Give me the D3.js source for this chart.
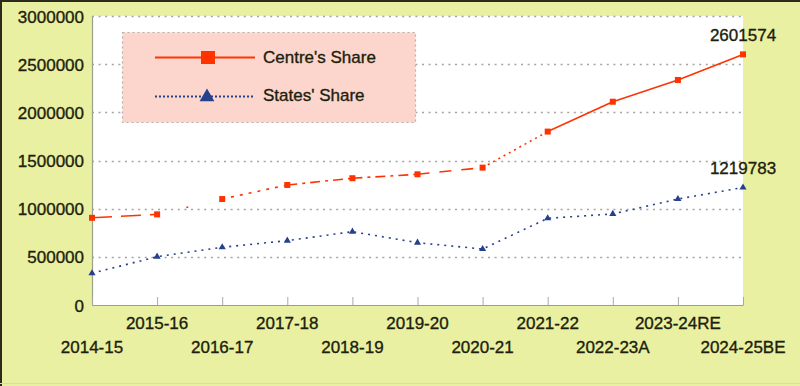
<!DOCTYPE html>
<html>
<head>
<meta charset="utf-8">
<script src="https://cdn.jsdelivr.net/npm/d3@7"></script>
<style>
	body { margin: 0; background: #fff; }
	svg text { font-family: "Liberation Sans", Arial, sans-serif; fill: #1e1e0c; stroke: #1e1e0c; stroke-width: 0.35px; }
</style>
</head>
<body>
<div id="chart"></div>
<script>
let years = ['2014-15', '2015-16', '2016-17', '2017-18', '2018-19', '2019-20',
	'2020-21', '2021-22', '2022-23A', '2023-24RE', '2024-25BE'];
let centreShare = [905000, 941000, 1100000, 1246000, 1316000, 1357000,
	1426000, 1800000, 2110000, 2336000, 2601574];
let statesShare = [329000, 502000, 599000, 668000, 761000, 647000,
	581000, 900000, 945000, 1100000, 1219783];
let yTicks = [0, 500000, 1000000, 1500000, 2000000, 2500000, 3000000];

let WIDTH = 800;
let HEIGHT = 386;
let CENTRE_COLOR = '#ff3300';
let STATES_COLOR = '#27408b';
let GRID_COLOR = '#a4a4a4';

// the source line changes dash pattern from segment to segment
let centreDash = ['20,9', '0,30,2,6', '3,6', '10,5,3,5', '10,5,3,5', '12,10', '2,4', null, null, null];

let margin = {top: 16, right: 57, bottom: 81, left: 92};

let svg = d3.select('#chart').append('svg')
	.attr('width', WIDTH)
	.attr('height', HEIGHT);

svg.append('rect')
	.attr('width', WIDTH)
	.attr('height', HEIGHT)
	.attr('fill', '#e9f0a2');
svg.append('line')
	.attr('x1', 0).attr('x2', WIDTH).attr('y1', 1).attr('y2', 1)
	.attr('stroke', '#2b2b1c').attr('stroke-width', 2);
svg.append('line')
	.attr('x1', 1).attr('x2', 1).attr('y1', 0).attr('y2', HEIGHT)
	.attr('stroke', '#2b2b1c').attr('stroke-width', 2);
svg.append('line')
	.attr('x1', 0).attr('x2', WIDTH).attr('y1', 383.5).attr('y2', 383.5)
	.attr('stroke', '#d8dca8').attr('stroke-width', 1);

let x = d3.scalePoint()
	.domain(years)
	.range([margin.left, WIDTH - margin.right]);

let y = d3.scaleLinear()
	.domain([0, 3000000])
	.range([HEIGHT - margin.bottom, margin.top]);

svg.append('rect')
	.attr('x', margin.left)
	.attr('y', margin.top)
	.attr('width', WIDTH - margin.right - margin.left)
	.attr('height', HEIGHT - margin.bottom - margin.top)
	.attr('fill', '#fff');

// gridlines
svg.append('g')
	.selectAll('line')
	.data(yTicks.filter(d => d > 0))
	.enter().append('line')
	.attr('x1', margin.left)
	.attr('x2', WIDTH - margin.right)
	.attr('y1', d => Math.round(y(d)) + 0.5)
	.attr('y2', d => Math.round(y(d)) + 0.5)
	.attr('stroke', GRID_COLOR)
	.attr('stroke-width', 1.3)
	.attr('stroke-dasharray', '2,4.6');

// y axis
let yAxis = svg.append('g')
	.attr('transform', `translate(${margin.left},0)`)
	.call(d3.axisLeft(y).tickValues(yTicks).tickSize(0).tickPadding(8).tickFormat(d3.format('d')));
yAxis.select('.domain').attr('stroke', '#9aa08a').attr('stroke-width', 1.2);
yAxis.selectAll('text')
	.attr('font-size', 17)
	.attr('dy', '0.36em')
	.style('font-family', '"Liberation Sans", Arial, sans-serif')
	.attr('fill', '#1e1e0c');

// x axis, ticks pointing up into the plot
let xAxis = svg.append('g')
	.attr('transform', `translate(0,${HEIGHT - margin.bottom})`)
	.call(d3.axisBottom(x).tickSizeInner(-8).tickSizeOuter(0).tickFormat(''));
xAxis.select('.domain').attr('stroke', '#9a9a9a').attr('stroke-width', 1.2);
xAxis.selectAll('.tick line').attr('stroke', '#a8a8a8');

svg.append('g')
	.selectAll('text')
	.data(years)
	.enter().append('text')
	.attr('x', d => x(d))
	.attr('y', (d, i) => i % 2 ? 329 : 353)
	.attr('text-anchor', 'middle')
	.attr('font-size', 17)
	.text(d => d);

// centre's share, segment by segment
let centrePts = years.map((d, i) => [x(d), y(centreShare[i])]);
svg.append('g')
	.selectAll('line')
	.data(d3.range(years.length - 1))
	.enter().append('line')
	.attr('x1', i => centrePts[i][0])
	.attr('y1', i => centrePts[i][1])
	.attr('x2', i => centrePts[i + 1][0])
	.attr('y2', i => centrePts[i + 1][1])
	.attr('stroke', CENTRE_COLOR)
	.attr('stroke-width', 1.6)
	.attr('stroke-dasharray', i => centreDash[i]);

svg.append('g')
	.selectAll('rect')
	.data(centreShare)
	.enter().append('rect')
	.attr('x', (d, i) => x(years[i]) - 3)
	.attr('y', d => y(d) - 3)
	.attr('width', 6)
	.attr('height', 6)
	.attr('fill', CENTRE_COLOR);

// states' share
let line = d3.line()
	.x((d, i) => x(years[i]))
	.y(d => y(d));

svg.append('path')
	.datum(statesShare)
	.attr('d', line)
	.attr('fill', 'none')
	.attr('stroke', STATES_COLOR)
	.attr('stroke-width', 1.6)
	.attr('stroke-dasharray', '2,5');

let tri = d3.symbol().type(d3.symbolTriangle).size(22);
svg.append('g')
	.selectAll('path')
	.data(statesShare)
	.enter().append('path')
	.attr('d', tri)
	.attr('transform', (d, i) => `translate(${x(years[i])},${y(d)})`)
	.attr('fill', STATES_COLOR);

// end labels
let last = years.length - 1;
svg.append('text')
	.attr('x', x(years[last]))
	.attr('y', y(centreShare[last]) - 13)
	.attr('text-anchor', 'middle')
	.attr('font-size', 17)
	.text(centreShare[last]);
svg.append('text')
	.attr('x', x(years[last]))
	.attr('y', y(statesShare[last]) - 13)
	.attr('text-anchor', 'middle')
	.attr('font-size', 17)
	.text(statesShare[last]);

// legend
let legend = svg.append('g');
legend.append('rect')
	.attr('x', 122.5)
	.attr('y', 32.5)
	.attr('width', 293)
	.attr('height', 90)
	.attr('fill', '#fcd6cc')
	.attr('stroke', '#b8b0a8')
	.attr('stroke-width', 1.2)
	.attr('stroke-dasharray', '2,3');

legend.append('line')
	.attr('x1', 155).attr('x2', 255).attr('y1', 57.5).attr('y2', 57.5)
	.attr('stroke', CENTRE_COLOR).attr('stroke-width', 1.8);
legend.append('rect')
	.attr('x', 201).attr('y', 51).attr('width', 14).attr('height', 13)
	.attr('fill', CENTRE_COLOR);
legend.append('text')
	.attr('x', 263).attr('y', 63)
	.attr('font-size', 17)
	.text("Centre's Share");

legend.append('line')
	.attr('x1', 155).attr('x2', 255).attr('y1', 96.5).attr('y2', 96.5)
	.attr('stroke', STATES_COLOR).attr('stroke-width', 1.8)
	.attr('stroke-dasharray', '2,2');
legend.append('path')
	.attr('d', d3.symbol().type(d3.symbolTriangle).size(95))
	.attr('transform', 'translate(207,97)')
	.attr('fill', STATES_COLOR);
legend.append('text')
	.attr('x', 263).attr('y', 101)
	.attr('font-size', 17)
	.text("States' Share");
</script>
</body>
</html>
